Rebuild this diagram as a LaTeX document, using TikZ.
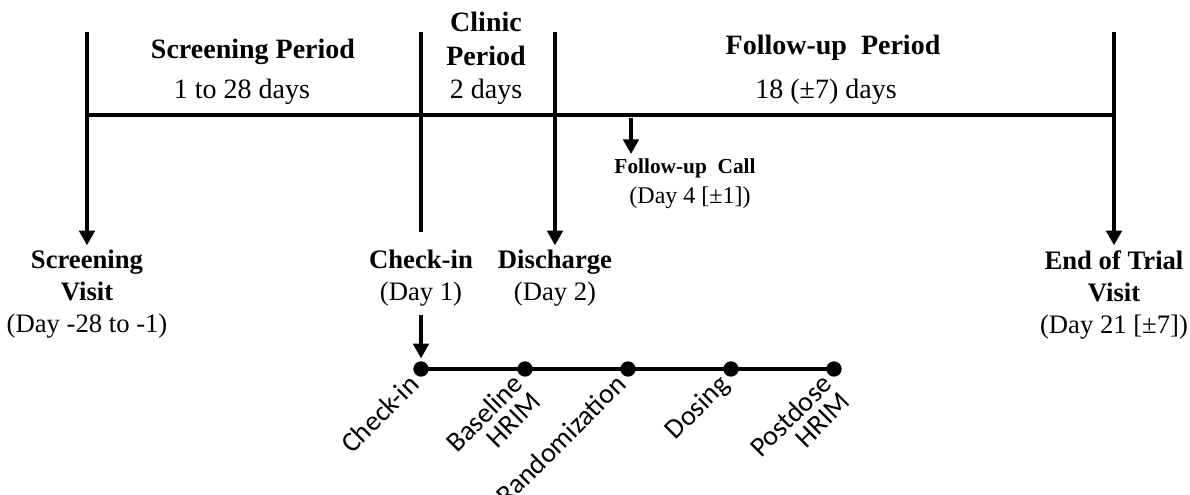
\documentclass[tikz,border=0pt]{standalone}
\usepackage{fontspec}
\setmainfont{Liberation Serif}
\newfontfamily\calfont{Carlito}
\usetikzlibrary{arrows.meta}
\begin{document}
\begin{tikzpicture}[x=0.75pt,y=-0.75pt,
  tline/.style={line width=3.6pt},
  arr/.style={line width=3.6pt,-{Triangle[length=11pt,width=11.5pt]}},
  title/.style={font=\fontsize{21}{25}\selectfont\bfseries, align=center, inner sep=0pt},
  days/.style={font=\fontsize{21}{25}\selectfont, inner sep=0pt},
  visit/.style={font=\fontsize{20}{24}\selectfont, align=center, anchor=north, inner sep=0pt},
  dot/.style={circle, fill=black, minimum size=11.5pt, inner sep=0pt},
  evlabel/.style={font=\calfont\fontsize{21}{19}\selectfont, rotate=45, anchor=north east, align=right, inner sep=0pt}]

\useasboundingbox (0,0) rectangle (1190,495);

% top ends of the period lines
\coordinate (t1) at (87,32);
\coordinate (t2) at (421,32);
\coordinate (t3) at (555,32);
\coordinate (t4) at (1114,32);
\coordinate (hl) at (87,115);
\coordinate (hr) at (1112,115);
\coordinate (fcTop) at (631,118);

% period titles
\node[title] (sp) at (253,52) {Screening Period};
\node[days] (spd) at (242,92) {1 to 28 days};
\node[title] (cp) at (486,39) {Clinic\\Period};
\node[days] (cpd) at (486,92) {2 days};
\node[title] (fp) at (833,48) {Follow-up\ \ Period};
\node[days] (fpd) at (826,92) {18 (±7) days};

% visits
\node[visit] (sv) at (87,250) {\textbf{Screening}\\\textbf{Visit}\\(Day -28 to -1)};
\node[visit] (ci) at (421,250) {\textbf{Check-in}\\(Day 1)};
\node[visit] (dc) at (555,250) {\textbf{Discharge}\\(Day 2)};
\node[visit] (et) at (1114,250) {\textbf{End of Trial}\\\textbf{Visit}\\(Day 21 [±7])};

% follow-up call
\node[font=\fontsize{16}{20}\selectfont\bfseries, inner sep=0pt] (fc) at (685,168) {Follow-up\ \ Call};
\node[font=\fontsize{18}{22}\selectfont, inner sep=0pt] (fcd) at (690,198) {(Day 4 [±1])};

% main timeline
\draw[tline] (hl) -- (hr);
\draw[arr, shorten >=3.5pt] (t1) -- (sv.north);
\draw[tline, shorten >=13.5pt] (t2) -- (ci.north);
\draw[arr, shorten >=3.5pt] (t3) -- (dc.north);
\draw[arr, shorten >=3.5pt] (t4) -- (et.north);
\draw[arr, shorten >=3pt] (fcTop) -- (fcTop |- fc.north);

% clinic day sequence
\node[dot] (d1) at (421,369) {};
\node[dot] (d2) at (525,369) {};
\node[dot] (d3) at (628,369) {};
\node[dot] (d4) at (731,369) {};
\node[dot] (d5) at (834,369) {};
\draw[tline] (d1.center) -- (d5.center);
\draw[arr, shorten <=6pt, shorten >=2pt] (ci.south) -- (d1.north);

\node[evlabel] (l1) at ([shift={(-14,3)}]d1.center) {Check-in};
\node[evlabel] (l2) at ([shift={(-14,3)}]d2.center) {Baseline\\HRIM};
\node[evlabel] (l3) at ([shift={(-14,3)}]d3.center) {Randomization};
\node[evlabel] (l4) at ([shift={(-14,3)}]d4.center) {Dosing};
\node[evlabel] (l5) at ([shift={(-14,3)}]d5.center) {Postdose\\HRIM};
\end{tikzpicture}
\end{document}
